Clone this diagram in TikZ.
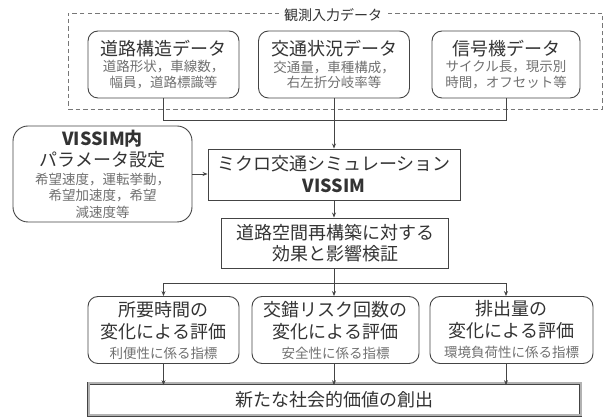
\documentclass[tikz,border=0pt]{standalone}
\usepackage{fontspec}
\setmainfont{Noto Sans CJK JP}
\usetikzlibrary{arrows.meta}
\definecolor{txt}{HTML}{333333}
\definecolor{subt}{HTML}{707070}
\definecolor{edge}{HTML}{444444}
\definecolor{dash}{HTML}{777777}
\newcommand\ttl[1]{{\fontsize{18}{21}\selectfont\color{txt}#1}}
\newcommand\bttl[1]{{\fontsize{18}{21}\selectfont\bfseries\color{txt}#1}}
\newcommand\sbt[1]{{\fontsize{13.5}{16}\selectfont\color{subt}#1}}
\newcommand\tightls{\lineskiplimit=-50pt\relax}
\begin{document}
\begin{tikzpicture}[x=1pt,y=-1pt,
  box/.style={draw=edge,line width=0.9pt,inner sep=0pt,align=center,text=txt},
  rbox/.style={box,rounded corners=10pt},
  topbox/.style={rbox,minimum width=151pt,minimum height=67pt,font=\fontsize{13.5}{15.5}\selectfont\tightls},
  botbox/.style={rbox,minimum height=67pt,font=\fontsize{18}{22}\selectfont\tightls},
  line/.style={draw=edge,line width=0.8pt},
  arr/.style={line,-{Stealth[length=5pt,width=4pt]}}]
\useasboundingbox (0,0) rectangle (606,419);
% observation data group
\node[draw=dash,dashed,dash pattern=on 4.5pt off 3pt,line width=0.8pt,minimum width=534pt,minimum height=96pt,inner sep=0pt] (obs) at (335,61) {};
\node[fill=white,inner xsep=5pt,inner ysep=1pt,text=txt,font=\fontsize{14}{16}\selectfont] (obst) at (333,15) {観測入力データ};
\node[topbox] (t1) at (163.5,64.5) {\ttl{道路構造データ}\\[1pt]\sbt{道路形状，車線数，}\\\sbt{幅員，道路標識等}};
\node[topbox] (t2) at (334,64.5) {\ttl{交通状況データ}\\[1pt]\sbt{交通量，車種構成，}\\\sbt{右左折分岐率等}};
\node[topbox,minimum width=148pt] (t3) at (506,64.5) {\ttl{信号機データ}\\[1pt]\sbt{サイクル長，現示別}\\\sbt{時間，オフセット等}};
% middle
\node[box,rounded corners=15pt,minimum width=179pt,minimum height=96pt,font=\fontsize{13.5}{16.5}\selectfont\tightls] (param) at (102.5,174)
  {\bttl{VISSIM内}\\[5pt]\ttl{パラメータ設定}\\[1pt]\sbt{希望速度，運転挙動，}\\\sbt{希望加速度，希望}\\\sbt{減速度等}};
\node[box,minimum width=252pt,minimum height=51pt,font=\fontsize{18}{22}\selectfont\tightls] (sim) at (334,174.5)
  {\ttl{ミクロ交通シミュレーション}\\\bttl{VISSIM}};
\node[box,minimum width=227pt,minimum height=50pt,font=\fontsize{18}{21}\selectfont\tightls] (ver) at (335,243)
  {\ttl{道路空間再構築に対する}\\\ttl{効果と影響検証}};
% evaluation boxes
\node[botbox,minimum width=151pt] (ea) at (163.5,330) {\ttl{所要時間の}\\\ttl{変化による評価}\\[-2pt]\sbt{利便性に係る指標}};
\node[botbox,minimum width=167pt] (eb) at (335.5,330) {\ttl{交錯リスク回数の}\\\ttl{変化による評価}\\[-2pt]\sbt{安全性に係る指標}};
\node[botbox,minimum width=163pt] (ec) at (511.5,330) {\ttl{排出量の}\\\ttl{変化による評価}\\[-2pt]\sbt{環境負荷性に係る指標}};
% final
\node[draw=edge,line width=0.7pt,double=gray!60,double distance=2pt,minimum width=492pt,minimum height=32pt,inner sep=0pt,text=txt] (fin) at (334.5,399.5)
  {\ttl{新たな社会的価値の創出}};
% connectors
\coordinate (jtop) at (334,120);
\coordinate (jbot) at (334,283);
\draw[line] (t1.south) |- (jtop);
\draw[line] (t3.south) |- (jtop);
\draw[arr] (t2.south) -- (sim.north);
\draw[arr] (param.east) -- (param.east -| sim.west);
\draw[arr] (sim.south) -- (sim.south |- ver.north);
\draw[line] (ver.south -| jbot) -- (jbot);
\draw[arr] (jbot) -| (ea.north);
\draw[arr] (jbot) -- (jbot |- eb.north);
\draw[arr] (jbot) -| ([xshift=-5.5pt]ec.north);
\draw[arr] (ea.south) -- ([yshift=-2pt]ea.south |- fin.north);
\draw[arr] (ea.south -| jbot) -- ([yshift=-2pt]jbot |- fin.north);
\draw[arr] ([xshift=-5.5pt]ec.south) -- ([xshift=-5.5pt,yshift=-2pt]ec.south |- fin.north);
\end{tikzpicture}
\end{document}
